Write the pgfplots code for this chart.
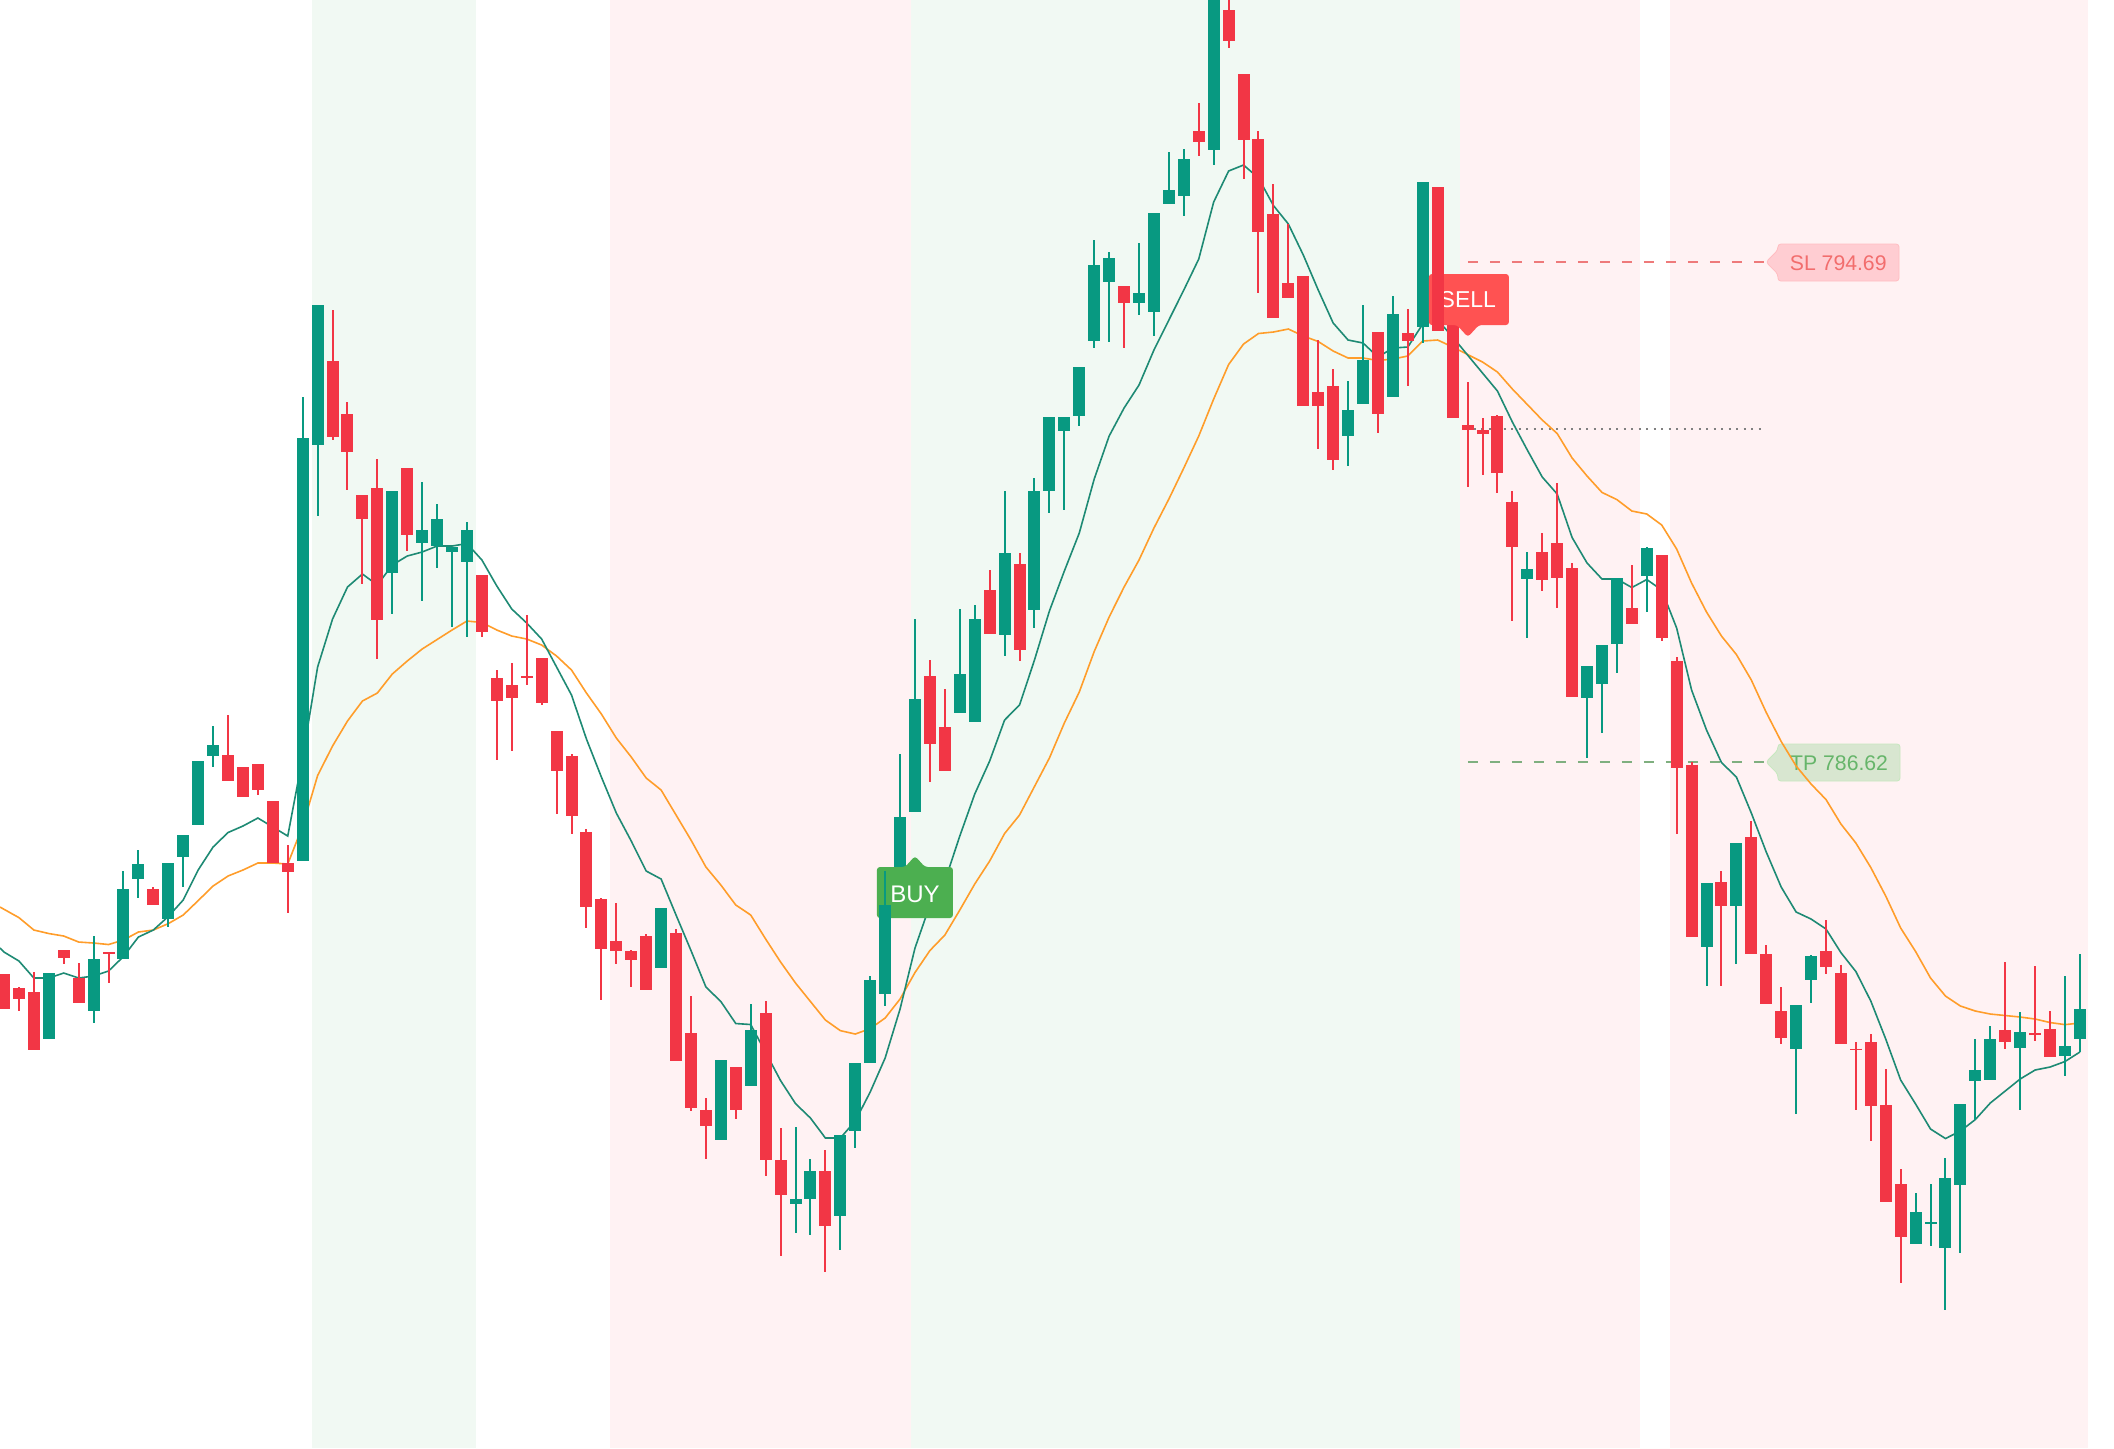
\documentclass[border=0pt]{standalone}
\usepackage{fontspec}
\setmainfont{Liberation Sans}
\usepackage{pgfplots}
\pgfplotsset{compat=1.18}
\definecolor{upc}{HTML}{089981}
\definecolor{downc}{HTML}{F23645}
\definecolor{bggreen}{HTML}{F1F9F3}
\definecolor{bgpink}{HTML}{FFF2F3}
\definecolor{emafast}{HTML}{1E8A74}
\definecolor{emaslow}{HTML}{FF9D2A}
\definecolor{slfill}{HTML}{FFCDD2}
\definecolor{tpfill}{HTML}{D8E6D0}
\definecolor{sltext}{HTML}{F26D6D}
\definecolor{tptext}{HTML}{66B56A}
\definecolor{buyfill}{HTML}{4CAF50}
\definecolor{sellfill}{HTML}{FF5252}
\definecolor{sldash}{HTML}{EE7A7A}
\definecolor{tpdash}{HTML}{7FAF7F}
\newcommand\CND[6]{%
  \addplot[forget plot,draw=#1,line width=1pt] coordinates {(#2,#5)(#2,#6)};
  \addplot[forget plot,draw=#1,line width=6pt] coordinates {(#2,#3)(#2,#4)};}
% index, body top, body bottom, wick high, wick low (pixel heights of the picture)
\newcommand\GC[5]{\CND{upc}{#1}{#2}{#3}{#4}{#5}}
\newcommand\RC[5]{\CND{downc}{#1}{#2}{#3}{#4}{#5}}
\pgfplotstableread{
i y
-0.27 948
0 952
1 961
2 978
3 978
4 973
5 978
6 976
7 971
8 956.5
9 937
10 930
11 916.5
12 900
13 870
14 847
15 832.5
16 826
17 818
18 827
19 836
20 757
21 667
22 619
23 587
24 574
25 585
26 565
27 556
28 552
29 546
30 546
31 543.5
32 560
33 586
34 609
35 623
36 639
37 667
38 695
39 739
40 777
41 813
42 841
43 871
44 879
45 915
46 950.5
47 987
48 1001.5
49 1023.5
50 1024.5
51 1052.5
52 1080.6
53 1103.6
54 1118
55 1138
56 1138
57 1121
58 1092
59 1058
60 1009
61 948
62 905
63 881
64 836
65 794
66 761
67 720
68 705
69 660
70 611
71 571
72 533
73 479
74 436
75 408
76 385
77 350
78 320
79 290
80 259
81 202
82 171
83 165
84 178
85 205.5
86 224
87 255
88 290
89 323
90 340
91 343
92 357
93 348
94 347
95 324
96 320
97 337
98 355
99 373
100 391
101 422
102 450
103 477
104 494
105 537.5
106 563
107 579
108 579
109 587.5
110 579.5
111 590
112 628
113 690
114 730
115 762.5
116 777
117 813
118 852
119 887
120 912
121 919
122 929
123 952.6
124 971.5
125 1001
126 1039
127 1080
128 1104
129 1129
130 1138.5
131 1131
132 1119.5
133 1103
134 1091
135 1079
136 1070
137 1067
138 1061.5
139 1052
}\fastema
\pgfplotstableread{
i y
-0.27 907
1 917.6
2 930
3 933.5
4 936
5 942
6 943
7 944.5
8 940
9 932
10 930
11 923.6
12 915
13 900.6
14 886
15 876
16 870
17 863
18 863
19 864
20 826
21 775.5
22 746
23 721
24 701
25 693
26 674
27 661
28 649
29 639.5
30 630
31 621
32 622.5
33 630
34 636
35 639
36 645
37 656
38 670
39 693
40 714
41 738
42 757
43 778
44 790
45 815
46 840
47 867
48 885
49 905
50 915
51 939
52 962
53 983
54 1001.5
55 1020
56 1030.6
57 1034
58 1028.6
59 1018
60 999
61 972.5
62 950.5
63 935
64 910
65 884
66 861
67 833.5
68 815
69 786.5
70 758
71 723
72 692
73 651.5
74 617
75 587
76 560
77 528
78 499
79 468
80 436
81 399
82 364.5
83 344
84 333.5
85 332
86 329
87 336
88 341.5
89 351
90 358
91 358
92 360.5
93 359
94 356
95 341
96 340
97 347
98 354.5
99 362
100 372
101 389
102 404.5
103 420
104 433.5
105 458
106 476
107 492.4
108 499.6
109 511
110 514
111 525
112 549
113 583
114 612
115 636
116 654.5
117 680
118 712.5
119 741.5
120 766
121 784
122 799.5
123 824
124 843
125 867.5
126 896
127 928
128 951.5
129 978
130 996
131 1006
132 1011
133 1014
134 1015.5
135 1017
136 1019
137 1022.5
138 1024.6
139 1023
}\slowema
\begin{document}
\begin{tikzpicture}
\begin{axis}[
  hide axis, scale only axis, width=1057pt, height=724pt,
  xmin=-0.268, xmax=141.286, ymin=0, ymax=1448, y dir=reverse,
  clip=true]
% page and signal zones
\addplot[fill=white,draw=none,forget plot] coordinates {(-0.268,0)(141.286,0)(141.286,1448)(-0.268,1448)} -- cycle;
\addplot[fill=bggreen,draw=none,forget plot] coordinates {(20.62,0)(31.6,0)(31.6,1448)(20.62,1448)} -- cycle;
\addplot[fill=bgpink,draw=none,forget plot] coordinates {(40.58,0)(60.75,0)(60.75,1448)(40.58,1448)} -- cycle;
\addplot[fill=bggreen,draw=none,forget plot] coordinates {(60.75,0)(97.49,0)(97.49,1448)(60.75,1448)} -- cycle;
\addplot[fill=bgpink,draw=none,forget plot] coordinates {(97.49,0)(109.54,0)(109.54,1448)(97.49,1448)} -- cycle;
\addplot[fill=bgpink,draw=none,forget plot] coordinates {(111.55,0)(139.54,0)(139.54,1448)(111.55,1448)} -- cycle;
% stop, target and entry levels
\addplot[forget plot,draw=sldash,line width=0.65pt,dash pattern=on 5pt off 6pt] coordinates {(98.02,262)(117.85,262)};
\addplot[forget plot,draw=black!50!white,line width=0.65pt,dash pattern=on 1pt off 2.75pt] coordinates {(98.4,429)(117.85,429)};
\addplot[forget plot,draw=tpdash,line width=0.65pt,dash pattern=on 5pt off 6pt] coordinates {(98.02,762)(117.85,762)};
\fill[fill=slfill,draw=slfill!92!red,rounded corners=1.5pt] (axis cs:117.98,262)--(axis cs:118.78,250)--(axis cs:118.78,244)--(axis cs:126.89,244)--(axis cs:126.89,281)--(axis cs:118.78,281)--(axis cs:118.78,274)--cycle;
\fill[fill=tpfill,draw=tpfill!92!green,rounded corners=1.5pt] (axis cs:117.98,762)--(axis cs:118.78,750)--(axis cs:118.78,744)--(axis cs:126.96,744)--(axis cs:126.96,781)--(axis cs:118.78,781)--(axis cs:118.78,774)--cycle;
\node[text=sltext,font=\fontsize{10.6}{12}\selectfont,inner sep=0pt] at (axis cs:122.82,263) {SL 794.69};
\node[text=tptext,font=\fontsize{10.6}{12}\selectfont,inner sep=0pt] at (axis cs:122.88,763) {TP 786.62};
% moving averages
\addplot[forget plot,draw=emaslow,line width=0.8pt] table[x=i,y=y] {\slowema};
\addplot[forget plot,draw=emafast,line width=0.8pt] table[x=i,y=y] {\fastema};
% candles under the markers
\GC{60}{817}{905}{754}{905}
\GC{61}{699}{812}{619}{812}
\RC{62}{676}{744}{660}{782}
\RC{63}{727}{771}{689}{771}
\GC{64}{674}{713}{609}{713}
\GC{65}{619}{722}{605}{722}
\RC{66}{590}{634}{570}{634}
\GC{67}{553}{635}{491}{656}
\RC{68}{564}{650}{553}{661}
\GC{69}{491}{610}{478}{628}
\GC{70}{417}{491}{417}{513}
\GC{71}{417}{431}{417}{510}
\GC{72}{367}{416}{367}{426}
\GC{73}{265}{341}{240}{348}
\GC{74}{258}{282}{252}{342}
\RC{75}{286}{303}{286}{348}
\GC{76}{293}{303}{243}{315}
\GC{77}{213}{312}{213}{336}
\GC{78}{190}{204}{152}{204}
\GC{79}{159}{196}{149}{216}
\RC{80}{131}{142}{103}{156}
\GC{81}{-20}{150}{-30}{165}
\RC{82}{10}{41}{-5}{48}
\RC{83}{74}{139.5}{74}{179}
\RC{84}{139}{232}{131}{293}
\RC{85}{214}{318}{184}{318}
\RC{86}{283}{298}{224}{298}
\RC{87}{276}{406}{276}{406}
\RC{88}{392}{406}{340}{449}
\RC{89}{386}{460}{369}{470}
\GC{90}{410}{436}{381}{466}
\GC{91}{360}{404}{305}{404}
\RC{92}{332}{414}{332}{433}
\GC{93}{314}{397}{296}{397}
\RC{94}{333}{341}{309}{386}
\GC{95}{182}{327}{182}{343}
\RC{97}{320}{418}{320}{418}
\RC{98}{425}{430}{382}{487}
\RC{99}{430}{434}{418}{475}
\RC{100}{416}{473}{415}{493}
\RC{101}{502}{547}{491}{621}
\GC{102}{569}{579}{552}{638}
\RC{103}{552}{580}{533}{591}
\RC{104}{543}{578}{483}{608}
\RC{105}{568}{697}{563}{697}
\GC{106}{666}{698}{666}{758}
\GC{107}{645}{684}{645}{733}
\GC{108}{578}{644}{578}{673}
\RC{109}{608}{624}{565}{624}
\GC{110}{548}{576}{547}{612}
\RC{111}{555}{638}{555}{641}
\RC{112}{661}{768}{657}{834}
\RC{113}{764.5}{937}{762}{937}
\GC{114}{883}{947}{883}{986}
\RC{115}{882}{906}{871}{986}
\GC{116}{843}{906}{843}{964}
\RC{117}{837}{954}{821}{954}
\RC{118}{954}{1004}{945}{1004}
\RC{119}{1011}{1038}{987}{1044}
\GC{120}{1005}{1048.5}{1005}{1113.5}
\GC{121}{956}{980}{955}{1003}
\RC{122}{951}{967}{920}{974}
\RC{123}{973}{1044}{964.5}{1044}
\RC{124}{1048.5}{1050}{1042}{1110}
\RC{125}{1042}{1106}{1034}{1141}
\RC{126}{1105}{1202}{1069}{1202}
\RC{127}{1184}{1237}{1169}{1283}
\GC{128}{1212}{1244}{1193}{1244}
\GC{129}{1222}{1224}{1184}{1246}
\GC{130}{1178}{1248}{1158}{1310}
\GC{131}{1104}{1185}{1104}{1253}
\GC{132}{1070}{1081}{1039}{1120}
\GC{133}{1039}{1080}{1026}{1080}
\RC{134}{1030}{1042}{962}{1048.5}
\GC{135}{1032}{1048}{1012}{1110}
\RC{136}{1033}{1035}{966}{1041}
\RC{137}{1029}{1057}{1011}{1057}
\GC{138}{1046}{1056}{976}{1076}
\GC{139}{1009}{1039}{954}{1052}
% BUY and SELL markers
\fill[fill=buyfill,rounded corners=1.5pt] (axis cs:58.45,867)--(axis cs:60.33,867)--(axis cs:61,856)--(axis cs:61.67,867)--(axis cs:63.54,867)--(axis cs:63.54,918)--(axis cs:58.45,918)--cycle;
\fill[fill=sellfill,rounded corners=1.5pt] (axis cs:95.41,274)--(axis cs:100.77,274)--(axis cs:100.77,325)--(axis cs:98.76,325)--(axis cs:98.02,337)--(axis cs:97.29,325)--(axis cs:95.41,325)--cycle;
\node[text=white,font=\fontsize{12}{14}\selectfont,inner sep=0pt] at (axis cs:61,894) {BUY};
\node[text=white,font=\fontsize{11.5}{13}\selectfont,inner sep=0pt] at (axis cs:98.02,300) {SELL};
% candles over the markers
\RC{0}{974}{1009}{974}{1009}
\RC{1}{988}{999}{987}{1011}
\RC{2}{992}{1050}{972}{1050}
\GC{3}{973}{1039}{973}{1039}
\RC{4}{950}{958}{950}{964}
\RC{5}{978}{1003}{963}{1003}
\GC{6}{959}{1011}{936}{1023}
\RC{7}{952}{954}{952}{983}
\GC{8}{889}{959}{871}{959}
\GC{9}{864}{879}{850}{898}
\RC{10}{889}{905}{887}{905}
\GC{11}{863}{919}{863}{927}
\GC{12}{835}{857}{835}{887}
\GC{13}{761}{825}{761}{825}
\GC{14}{745}{756}{726}{767}
\RC{15}{755}{781}{715}{781}
\RC{16}{767}{797}{767}{797}
\RC{17}{764}{790}{764}{795}
\RC{18}{801}{863}{801}{863}
\RC{19}{863}{872}{845}{913}
\GC{20}{438}{861}{397}{861}
\GC{21}{305}{445}{305}{516}
\RC{22}{361}{437}{310}{440}
\RC{23}{414}{452}{402}{490}
\RC{24}{495}{519}{495}{584}
\RC{25}{488}{620}{459}{659}
\GC{26}{491}{573}{491}{614}
\RC{27}{468}{535}{468}{551}
\GC{28}{530}{543}{482}{601}
\GC{29}{519}{546}{504}{568}
\GC{30}{547}{552}{547}{627}
\GC{31}{530}{562}{522}{637}
\RC{32}{575}{632}{575}{637}
\RC{33}{678}{701}{670}{760}
\RC{34}{685}{698}{663}{751}
\RC{35}{676}{678}{615}{685}
\RC{36}{658}{703}{658}{705}
\RC{37}{731}{771}{731}{814}
\RC{38}{756}{816}{754}{834}
\RC{39}{832}{907}{829}{928}
\RC{40}{899}{949}{898}{1000}
\RC{41}{941}{951}{903}{964}
\RC{42}{951}{960}{950}{987}
\RC{43}{936}{990}{934}{990}
\GC{44}{908}{968}{908}{968}
\RC{45}{933}{1061}{929}{1061}
\RC{46}{1033}{1108}{996}{1111}
\RC{47}{1110}{1126}{1098}{1159}
\GC{48}{1060}{1140}{1060}{1140}
\RC{49}{1067}{1110}{1067}{1119}
\GC{50}{1030}{1086}{1004}{1086}
\RC{51}{1013}{1160}{1001}{1176}
\RC{52}{1160}{1195}{1128}{1256}
\GC{53}{1199}{1204}{1127}{1233}
\GC{54}{1171}{1199}{1159}{1235}
\RC{55}{1171}{1226}{1150}{1272}
\GC{56}{1135}{1216}{1135}{1250}
\GC{57}{1063}{1131}{1063}{1148}
\GC{58}{980}{1063}{976}{1063}
\GC{59}{905}{994}{871}{1006}
\RC{96}{187}{331}{187}{331}
\end{axis}
\end{tikzpicture}
\end{document}
